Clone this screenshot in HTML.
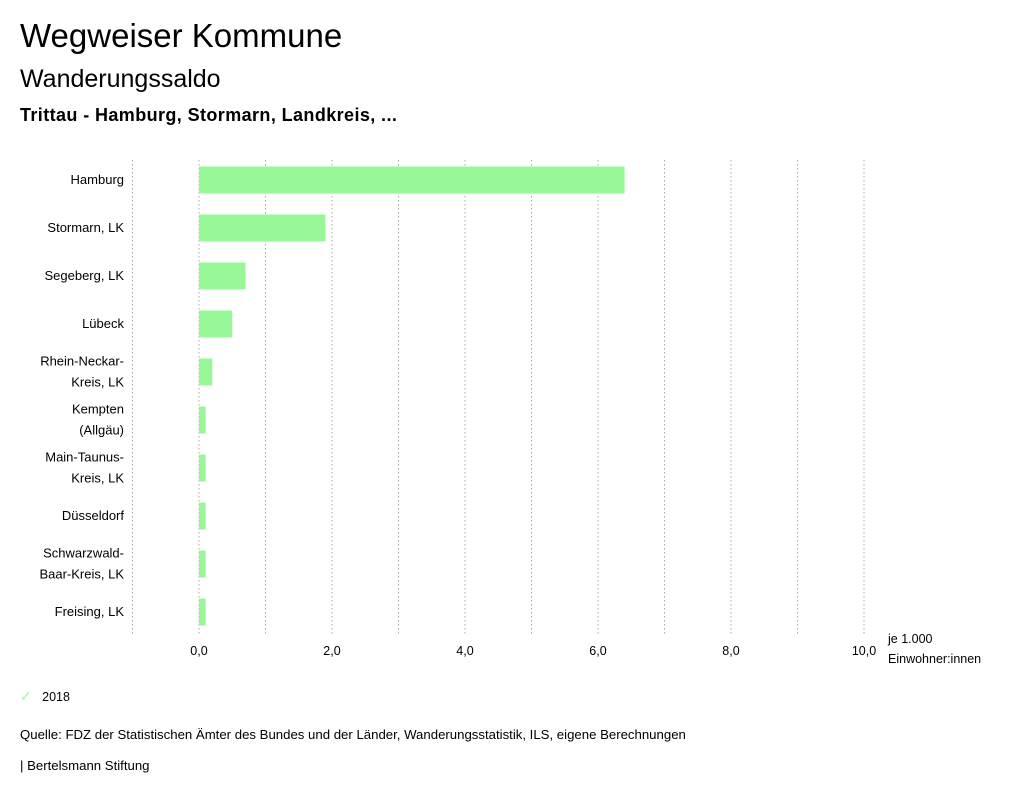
<!DOCTYPE html>
<html><head><meta charset="utf-8"><style>
body{margin:0;width:1024px;height:799px;background:#fff;font-family:"Liberation Sans",sans-serif;color:#000;overflow:hidden}
.t{position:absolute;white-space:nowrap}
</style></head><body>
<div class="t" style="left:20px;top:17px;font-size:33px">Wegweiser Kommune</div>
<div class="t" style="left:20px;top:65px;font-size:25px">Wanderungssaldo</div>
<div class="t" style="left:20px;top:105px;font-size:18px;font-weight:bold;letter-spacing:0.4px">Trittau - Hamburg, Stormarn, Landkreis, ...</div>
<svg id="chart" width="1024" height="799" style="position:absolute;left:0;top:0" font-family="Liberation Sans, sans-serif"></svg>
<div class="t" style="left:20px;top:688px;font-size:12.5px"><span style="color:#98f797;font-size:14px">✓</span>&nbsp;&nbsp;&nbsp;2018</div>
<div class="t" style="left:20px;top:727px;font-size:13.2px">Quelle: FDZ der Statistischen Ämter des Bundes und der Länder, Wanderungsstatistik, ILS, eigene Berechnungen</div>
<div class="t" style="left:20px;top:758px;font-size:13.2px">| Bertelsmann Stiftung</div>
<script>
const categories=[["Hamburg"],["Stormarn, LK"],["Segeberg, LK"],["Lübeck"],["Rhein-Neckar-","Kreis, LK"],["Kempten","(Allgäu)"],["Main-Taunus-","Kreis, LK"],["Düsseldorf"],["Schwarzwald-","Baar-Kreis, LK"],["Freising, LK"]];
const values=[6.4,1.9,0.7,0.5,0.2,0.1,0.1,0.1,0.1,0.1];
const ticks=[0,2,4,6,8,10];
const tickLabels=["0,0","2,0","4,0","6,0","8,0","10,0"];
const gridVals=[-1,0,1,2,3,4,5,6,7,8,9,10];
const svg=document.getElementById('chart');
const NS="http://www.w3.org/2000/svg";
const x=v=>199+v*66.5;
const y=i=>180+i*48;
function mk(t,a){const e=document.createElementNS(NS,t);for(const k in a)e.setAttribute(k,a[k]);svg.appendChild(e);return e;}
gridVals.forEach(v=>{const l=mk('line',{x1:x(v),x2:x(v),y1:160,y2:635,stroke:'#aaa','stroke-dasharray':'1.5,2.5','stroke-width':1});

});
ticks.forEach((v,i)=>{const t=mk('text',{x:x(v),y:655,'font-size':12.5,'text-anchor':'middle'});t.textContent=tickLabels[i];

});
values.forEach((v,i)=>{const r=mk('rect',{x:Math.min(x(0),x(v)),y:y(i)-13.5,width:Math.abs(x(v)-x(0)),height:27,fill:'#98f797'});


const lines=categories[i];
lines.forEach((s,j)=>{const t=mk('text',{x:124,y:y(i)+4+(j-(lines.length-1)/2)*21,'font-size':13,'text-anchor':'end'});t.textContent=s;

});});
[["je 1.000",643],["Einwohner:innen",663]].forEach(a=>{const t=mk('text',{x:888,y:a[1],'font-size':12.5});t.textContent=a[0];

});
</script>
</body></html>
